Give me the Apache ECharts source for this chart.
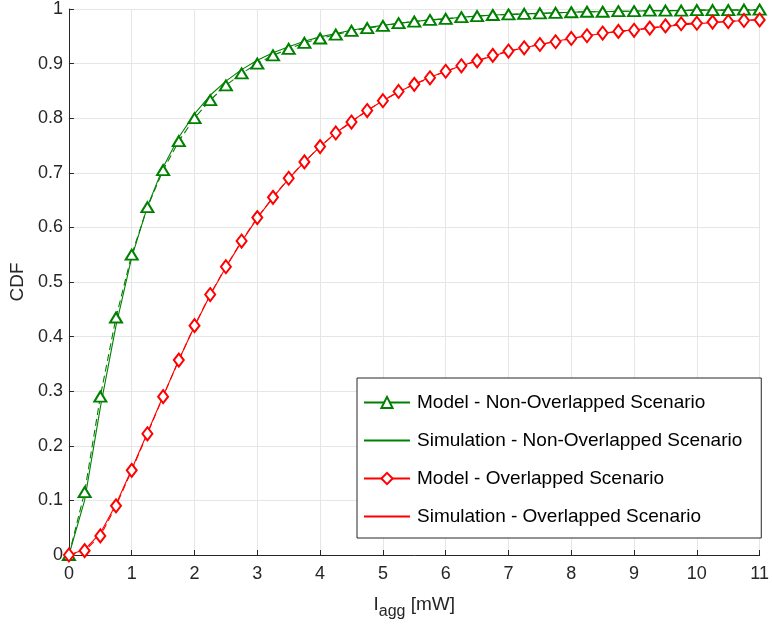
<!DOCTYPE html>
<html>
<head>
<meta charset="utf-8">
<script src="https://cdn.jsdelivr.net/npm/echarts@6/dist/echarts.min.js"></script>
<style>html,body{margin:0;padding:0;background:#fff}#c{width:772px;height:625px}</style>
</head>
<body>
<div id="c"></div>
<script>
var xValues = [0,0.25,0.5,0.75,1,1.25,1.5,1.75,2,2.25,2.5,2.75,3,3.25,3.5,3.75,4,4.25,4.5,4.75,5,5.25,5.5,5.75,6,6.25,6.5,6.75,7,7.25,7.5,7.75,8,8.25,8.5,8.75,9,9.25,9.5,9.75,10,10.25,10.5,10.75,11];
var modelNonOverlapped = [0,0.115,0.29,0.435,0.55,0.637,0.705,0.758,0.80,0.833,0.86,0.882,0.90,0.915,0.927,0.938,0.946,0.953,0.960,0.965,0.969,0.974,0.977,0.980,0.982,0.985,0.987,0.989,0.990,0.991,0.992,0.993,0.994,0.995,0.995,0.996,0.996,0.997,0.997,0.997,0.998,0.998,0.998,0.999,0.999];
var simNonOverlapped = [0,0.10,0.27,0.42,0.545,0.638,0.71,0.765,0.808,0.842,0.868,0.889,0.906,0.92,0.931,0.941,0.949,0.955,0.961,0.966,0.970,0.974,0.977,0.980,0.982,0.985,0.987,0.989,0.990,0.991,0.992,0.993,0.994,0.995,0.995,0.996,0.996,0.997,0.997,0.997,0.998,0.998,0.998,0.998,0.998];
var modelOverlapped = [0,0.008,0.035,0.09,0.155,0.222,0.29,0.357,0.42,0.477,0.528,0.575,0.618,0.655,0.69,0.72,0.748,0.773,0.793,0.814,0.832,0.849,0.862,0.874,0.886,0.896,0.905,0.915,0.923,0.929,0.935,0.940,0.946,0.951,0.956,0.959,0.961,0.965,0.969,0.973,0.974,0.976,0.977,0.979,0.980];
var simOverlapped = [0,0.01,0.04,0.093,0.157,0.224,0.291,0.357,0.419,0.476,0.527,0.574,0.617,0.655,0.689,0.72,0.748,0.773,0.794,0.814,0.832,0.848,0.862,0.875,0.886,0.896,0.905,0.914,0.922,0.929,0.935,0.941,0.946,0.951,0.955,0.959,0.962,0.965,0.968,0.971,0.973,0.975,0.977,0.979,0.981];
var seriesNames = ['Model - Non-Overlapped Scenario','Simulation - Non-Overlapped Scenario','Model - Overlapped Scenario','Simulation - Overlapped Scenario'];

function pairs(ys){ return xValues.map(function(x,i){ return [x, ys[i]]; }); }

var GREEN = '#008000', RED = '#ff0000', AX = '#262626';
var FONT = '"Liberation Sans",Arial,Helvetica,sans-serif';
var chart = echarts.init(document.getElementById('c'), null, {renderer:'canvas'});
chart.setOption({
  animation:false,
  backgroundColor:'#fff',
  grid:{left:68,right:9,top:9,bottom:70},
  xAxis:{type:'value',min:0,max:11,interval:1,
    name:'{a|I}{b|agg}{a| [mW]}',nameLocation:'middle',nameGap:34,
    nameTextStyle:{rich:{a:{fontSize:19,fontFamily:FONT,color:AX},b:{fontSize:16,fontFamily:FONT,color:AX,verticalAlign:'top',padding:[15,0,0,0]}}},
    axisLine:{lineStyle:{color:AX,width:1}},
    axisTick:{inside:true,length:5,lineStyle:{color:AX}},
    axisLabel:{fontSize:18,fontFamily:FONT,color:AX,margin:10},
    splitLine:{show:true,lineStyle:{color:'#e6e6e6',width:1}}},
  yAxis:{type:'value',min:0,max:1,interval:0.1,
    name:'CDF',nameLocation:'middle',nameGap:40,nameRotate:90,
    nameTextStyle:{fontSize:19,fontFamily:FONT,color:AX},
    axisLine:{show:true,lineStyle:{color:AX,width:1}},
    axisTick:{show:true,inside:true,length:5,lineStyle:{color:AX}},
    axisLabel:{fontSize:18,fontFamily:FONT,color:AX,margin:6,
      formatter:function(v){return String(Math.round(v*10)/10);}},
    splitLine:{show:true,lineStyle:{color:'#e6e6e6',width:1}}},
  legend:{orient:'vertical',left:357,top:378,
    padding:[15,19,12,6],itemGap:19,itemWidth:46,itemHeight:14,
    borderColor:AX,borderWidth:1,backgroundColor:'#fff',
    textStyle:{fontSize:19,fontFamily:FONT,color:'#000',padding:[0,0,0,2]},
    data:[
      {name:seriesNames[0],lineStyle:{type:'solid'}},
      {name:seriesNames[1],itemStyle:{opacity:0}},
      {name:seriesNames[2],lineStyle:{type:'solid'}},
      {name:seriesNames[3],itemStyle:{opacity:0}}
    ]},
  series:[
    {name:seriesNames[1],type:'line',data:pairs(simNonOverlapped),symbol:'none',
      lineStyle:{color:GREEN,width:1.1},itemStyle:{color:GREEN},z:2},
    {name:seriesNames[3],type:'line',data:pairs(simOverlapped),symbol:'none',
      lineStyle:{color:RED,width:1.1},itemStyle:{color:RED},z:2},
    {name:seriesNames[0],type:'line',data:pairs(modelNonOverlapped),symbol:'emptyTriangle',symbolSize:[12,10],
      showAllSymbol:true,lineStyle:{color:GREEN,width:1.1,type:[7,4]},
      itemStyle:{color:GREEN,borderColor:GREEN,borderWidth:1.3},z:3},
    {name:seriesNames[2],type:'line',data:pairs(modelOverlapped),symbol:'emptyDiamond',symbolSize:[10,13],
      showAllSymbol:true,lineStyle:{color:RED,width:1.1,type:[7,4]},
      itemStyle:{color:RED,borderColor:RED,borderWidth:1.3},z:3}
  ]
});
</script>
</body>
</html>
